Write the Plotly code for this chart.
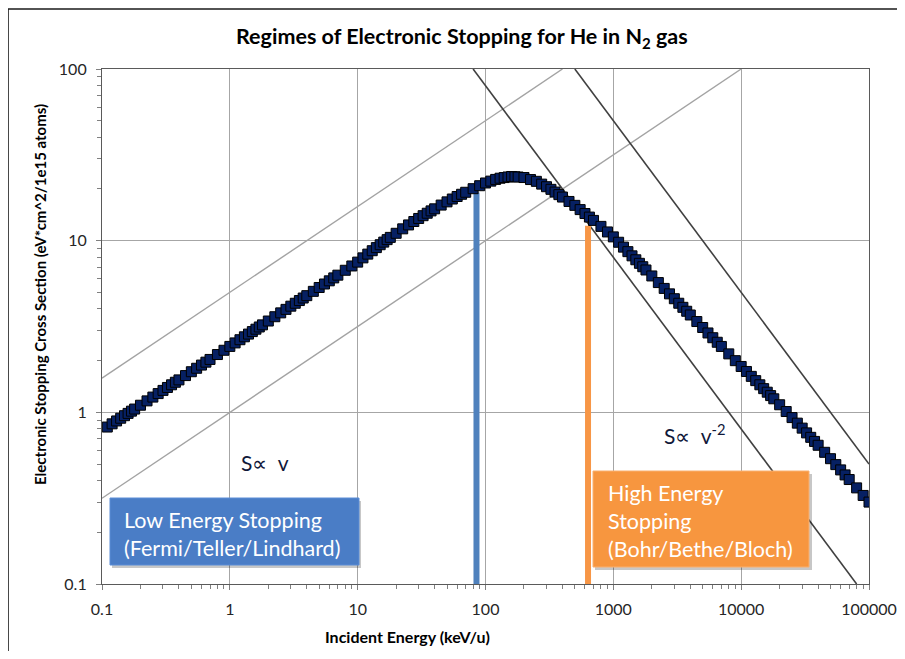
import plotly.graph_objects as go

# ---------------- data ----------------
energy_keV_u = [
    0.11, 0.12, 0.13, 0.14, 0.15, 0.16, 0.17, 0.18, 0.2, 0.225, 0.25, 0.275, 0.3, 0.325, 0.35, 0.375, 0.4, 0.45, 0.5, 0.55, 0.6, 0.65, 0.7, 0.8, 0.9,
    1, 1.1, 1.2, 1.3, 1.4, 1.5, 1.6, 1.7, 1.8, 2, 2.25, 2.5, 2.75, 3, 3.25, 3.5, 3.75, 4, 4.5, 5, 5.5, 6, 6.5, 7, 8, 9,
    10, 11, 12, 13, 14, 15, 16, 17, 18, 20, 22.5, 25, 27.5, 30, 32.5, 35, 37.5, 40, 45, 50, 55, 60, 65, 70, 80, 90,
    100, 110, 120, 130, 140, 150, 160, 170, 180, 200, 225, 250, 275, 300, 325, 350, 375, 400, 450, 500, 550, 600, 650, 700, 800, 900,
    1000, 1100, 1200, 1300, 1400, 1500, 1600, 1700, 1800, 2000, 2250, 2500, 2750, 3000, 3250, 3500, 3750, 4000, 4500, 5000, 5500, 6000, 6500, 7000, 8000, 9000,
    10000, 11000, 12000, 13000, 14000, 15000, 16000, 17000, 18000, 20000, 22500, 25000, 27500, 30000, 32500, 35000, 37500, 40000, 45000, 50000, 55000, 60000, 65000, 70000, 80000, 90000,
    100000,
]
stopping = [
    0.821, 0.857, 0.891, 0.924, 0.956, 0.986, 1.016, 1.045, 1.100, 1.166, 1.227, 1.286, 1.342, 1.396, 1.447, 1.497, 1.545, 1.637, 1.724, 1.806, 1.885, 1.960, 2.033, 2.171, 2.299,
    2.421, 2.537, 2.648, 2.754, 2.856, 2.954, 3.050, 3.142, 3.232, 3.403, 3.605, 3.797, 3.979, 4.153, 4.319, 4.479, 4.633, 4.782, 5.067, 5.336, 5.591, 5.836, 6.069, 6.295, 6.722, 7.121,
    7.50, 7.94, 8.35, 8.74, 9.11, 9.47, 9.81, 10.14, 10.45, 11.04, 11.72, 12.35, 12.93, 13.47, 13.98, 14.45, 14.91, 15.33, 16.12, 16.83, 17.48, 18.08, 18.63, 19.14, 20.08, 20.90,
    21.68, 22.23, 22.74, 23.11, 23.31, 23.50, 23.65, 23.56, 23.48, 23.32, 22.70, 22.16, 21.35, 20.62, 19.91, 19.19, 18.54, 17.95, 16.92, 16.06, 15.17, 14.39, 13.72, 13.12, 12.11, 11.24,
    10.52, 9.79, 9.17, 8.63, 8.16, 7.74, 7.38, 7.05, 6.75, 6.23, 5.70, 5.27, 4.90, 4.59, 4.32, 4.09, 3.88, 3.69, 3.38, 3.12, 2.90, 2.72, 2.56, 2.42, 2.19, 2.00,
    1.85, 1.73, 1.62, 1.53, 1.447, 1.374, 1.31, 1.252, 1.199, 1.107, 1.011, 0.932, 0.865, 0.809, 0.759, 0.715, 0.677, 0.643, 0.585, 0.537, 0.496, 0.462, 0.432, 0.406, 0.363, 0.328,
    0.300,
]

# S ∝ v guide lines (slope 1/2 in log-log)
low_upper_E = [0.1, 400]
low_upper_S = [1.581, 100]
low_lower_E = [0.1, 10000]
low_lower_S = [0.316, 100]
# S ∝ v^-2 guide lines (slope -1 in log-log)
high_left_E = [80, 80000]
high_left_S = [100, 0.1]
high_right_E = [500, 100000]
high_right_S = [100, 0.5]

# regime markers
low_bar_E = [85, 85]
low_bar_S = [0.1, 19.1]
high_bar_E = [634, 634]
high_bar_S = [0.1, 12.2]

x_tickvals = [0.1, 1, 10, 100, 1000, 10000, 100000]
x_ticktext = ["0.1", "1", "10", "100", "1000", "10000", "100000"]
y_tickvals = [0.1, 1, 10, 100]
y_ticktext = ["0.1", "1", "10", "100"]

# ---------------- layout helpers ----------------
# the page body adds an 8 px margin; keep the figure inside the window
W, H = 897, 643
ML, MR, MT, MB = 94, 36, 61, 67
PW, PH = W - ML - MR, H - MT - MB
X0_SCREEN = ML + 8          # screen x of the plot's left edge
Y1_SCREEN = H - MB + 8      # screen y of the plot's bottom edge


def px(x):
    return (x - X0_SCREEN) / PW


def py(y):
    return (Y1_SCREEN - y) / PH


FONT = "Lato, 'Open Sans', sans-serif"

fig = go.Figure()

guide_gray = dict(color="#A3A3A3", width=1.4)
guide_dark = dict(color="#404040", width=1.6)
fig.add_trace(go.Scatter(x=low_upper_E, y=low_upper_S, mode="lines", line=guide_gray, hoverinfo="skip"))
fig.add_trace(go.Scatter(x=low_lower_E, y=low_lower_S, mode="lines", line=guide_gray, hoverinfo="skip"))
fig.add_trace(go.Scatter(x=high_left_E, y=high_left_S, mode="lines", line=guide_dark, hoverinfo="skip"))
fig.add_trace(go.Scatter(x=high_right_E, y=high_right_S, mode="lines", line=guide_dark, hoverinfo="skip"))

fig.add_trace(go.Scatter(x=low_bar_E, y=low_bar_S, mode="lines", line=dict(color="#4F81BD", width=6), hoverinfo="skip"))
fig.add_trace(go.Scatter(x=high_bar_E, y=high_bar_S, mode="lines", line=dict(color="#F79646", width=6), hoverinfo="skip"))

fig.add_trace(go.Scatter(
    x=energy_keV_u, y=stopping, mode="markers",
    marker=dict(symbol="square", size=10, color="#062063", line=dict(color="#000000", width=1)),
    name="He in N2",
))

axis_common = dict(
    type="log",
    automargin=False,
    showgrid=True, gridcolor="#A6A6A6", gridwidth=1,
    showline=True, linecolor="#5A5A5A", linewidth=1.2, mirror=True,
    ticks="outside", ticklen=5, tickcolor="#808080",
    tickfont=dict(family=FONT, size=16, color="#262626"),
    zeroline=False,
    minor=dict(ticks="outside", ticklen=4, tickcolor="#808080", dtick="D1", showgrid=False),
    ticklabelstandoff=6,
)

fig.update_layout(
    width=W, height=H,
    margin=dict(l=ML, r=MR, t=MT, b=MB, autoexpand=False),
    paper_bgcolor="white", plot_bgcolor="white",
    showlegend=False,
    xaxis=dict(axis_common, range=[-1, 5], tickvals=x_tickvals, ticktext=x_ticktext),
    yaxis=dict(axis_common, range=[-1, 2], tickvals=y_tickvals, ticktext=y_ticktext),
)

shapes = []
# outer chart frame (left and top edges only are visible)
frame_line = dict(color="#1A1A1A", width=1.6)
shapes.append(dict(type="line", xref="paper", yref="paper",
                   x0=px(8), x1=px(8), y0=py(700), y1=py(9), line=frame_line, layer="above"))
shapes.append(dict(type="line", xref="paper", yref="paper",
                   x0=px(8), x1=px(910), y0=py(9), y1=py(9), line=frame_line, layer="above"))
# box shadows
shapes.append(dict(type="rect", xref="paper", yref="paper",
                   x0=px(112), x1=px(361), y0=py(568), y1=py(501),
                   line=dict(width=0), fillcolor="rgba(0,0,0,0.22)", layer="above"))
shapes.append(dict(type="rect", xref="paper", yref="paper",
                   x0=px(595), x1=px(812), y0=py(570), y1=py(474),
                   line=dict(width=0), fillcolor="rgba(0,0,0,0.22)", layer="above"))
# blue text box
shapes.append(dict(type="rect", xref="paper", yref="paper",
                   x0=px(110), x1=px(359), y0=py(565), y1=py(498),
                   line=dict(color="#5B8DD6", width=1), fillcolor="#4A7DC6", layer="above"))
# orange text box
shapes.append(dict(type="rect", xref="paper", yref="paper",
                   x0=px(593), x1=px(809), y0=py(567), y1=py(471),
                   line=dict(color="#F9B070", width=1), fillcolor="#F7963F", layer="above"))
fig.update_layout(shapes=shapes)

ann = []
ann.append(dict(text="Regimes of Electronic Stopping for He in N<sub>2</sub> gas",
                x=px(462), y=py(37), xref="paper", yref="paper", showarrow=False,
                xanchor="center", yanchor="middle",
                font=dict(family=FONT, size=21.5, color="#000000", weight="bold")))
ann.append(dict(text="Incident Energy (keV/u)",
                x=px(407), y=py(636), xref="paper", yref="paper", showarrow=False,
                xanchor="center", yanchor="middle",
                font=dict(family=FONT, size=16, color="#000000", weight="bold")))
ann.append(dict(text="Electronic Stopping Cross Section (eV*cm^2/1e15 atoms)",
                x=px(40), y=py(295), xref="paper", yref="paper", showarrow=False,
                xanchor="center", yanchor="middle", textangle=-90,
                font=dict(family=FONT, size=15, color="#000000", weight="bold")))
ann.append(dict(text="S\u221d  v",
                x=px(239), y=py(462), xref="paper", yref="paper", showarrow=False,
                xanchor="left", yanchor="middle",
                font=dict(family=FONT, size=21, color="#10183A")))
ann.append(dict(text="S\u221d  v<sup>-2</sup>",
                x=px(662), y=py(434), xref="paper", yref="paper", showarrow=False,
                xanchor="left", yanchor="middle",
                font=dict(family=FONT, size=21, color="#10183A")))
for txt, yy in [("Low Energy Stopping", 520), ("(Fermi/Teller/Lindhard)", 548)]:
    ann.append(dict(text=txt, x=px(122), y=py(yy), xref="paper", yref="paper", showarrow=False,
                    xanchor="left", yanchor="middle",
                    font=dict(family=FONT, size=21.5, color="#FFFFFF")))
for txt, yy in [("High Energy", 493), ("Stopping", 521), ("(Bohr/Bethe/Bloch)", 549)]:
    ann.append(dict(text=txt, x=px(606), y=py(yy), xref="paper", yref="paper", showarrow=False,
                    xanchor="left", yanchor="middle",
                    font=dict(family=FONT, size=21.5, color="#FFFFFF")))
fig.update_layout(annotations=ann)

fig.write_html("out.html")
